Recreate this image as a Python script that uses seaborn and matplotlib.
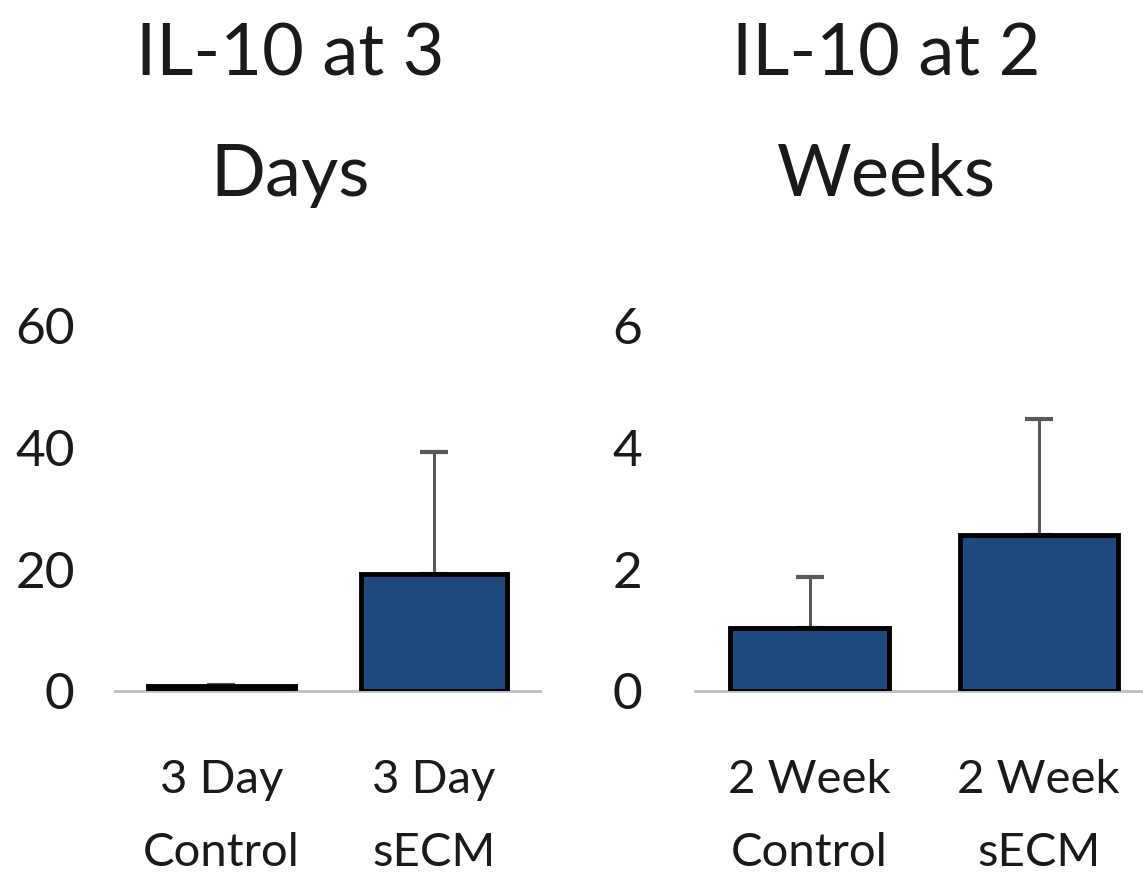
import matplotlib
matplotlib.use("Agg")
import matplotlib.pyplot as plt
import seaborn as sns
import pandas as pd

# data
day3_labels = ["3 Day\nControl", "3 Day\nsECM"]
day3_means = [0.8, 19.2]
day3_err = [0.2, 20.0]

week2_labels = ["2 Week\nControl", "2 Week\nsECM"]
week2_means = [1.04, 2.57]
week2_err = [0.83, 1.9]

titles = ["IL-10 at 3\nDays", "IL-10 at 2\nWeeks"]
yticks_list = [[0, 20, 40, 60], [0, 2, 4, 6]]

BAR_COLOR = "#1F497D"

sns.set_theme(style="white")
plt.rcParams["font.family"] = ["Lato", "DejaVu Sans"]

fig = plt.figure(figsize=(11.43, 8.88), dpi=100)
ax_left = fig.add_axes([0.1006, 0.222, 0.372, 0.411])
ax_right = fig.add_axes([0.608, 0.222, 0.401, 0.411])


def draw_panel(ax, labels, means, errs, yticks):
    df = pd.DataFrame({"group": labels, "value": means})
    sns.barplot(data=df, x="group", y="value", color=BAR_COLOR, width=0.69,
                edgecolor="black", linewidth=3.5, saturation=1, ax=ax, zorder=3)
    ax.errorbar(range(len(labels)), means, yerr=[[0] * len(errs), errs],
                fmt="none", ecolor="#595959", elinewidth=2.2, capsize=10,
                capthick=3, zorder=2)
    ax.set_ylim(0, yticks[-1])
    ax.set_xlim(-0.5, 1.5)
    ax.set_yticks(yticks)
    ax.set_xlabel("")
    ax.set_ylabel("")
    for side in ["top", "right", "left"]:
        ax.spines[side].set_visible(False)
    ax.spines["bottom"].set_color("#BFBFBF")
    ax.spines["bottom"].set_linewidth(2)
    ax.spines["bottom"].set_zorder(1)
    ax.tick_params(axis="y", length=0, labelsize=37, colors="#1a1a1a")
    ax.tick_params(axis="x", length=0, labelsize=34, colors="#1a1a1a", pad=49)
    for lbl in ax.get_xticklabels():
        lbl.set_linespacing(1.9)
    ax.patch.set_alpha(0)


draw_panel(ax_left, day3_labels, day3_means, day3_err, yticks_list[0])
draw_panel(ax_right, week2_labels, week2_means, week2_err, yticks_list[1])
ax_left.tick_params(axis="y", pad=29)
ax_right.tick_params(axis="y", pad=38)

fig.text(290 / 1143, 1 - 22 / 888, titles[0], ha="center", va="top",
         fontsize=52, color="#1a1a1a", linespacing=2.05)
fig.text(886 / 1143, 1 - 22 / 888, titles[1], ha="center", va="top",
         fontsize=52, color="#1a1a1a", linespacing=2.05)

fig.savefig("out.png", dpi=100, facecolor="white")
